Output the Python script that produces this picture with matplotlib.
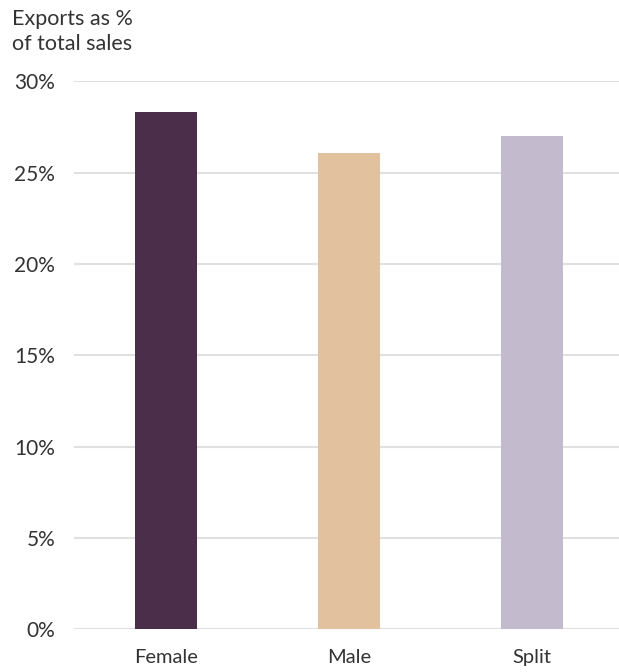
import matplotlib
matplotlib.use("Agg")
import matplotlib.pyplot as plt
from matplotlib.ticker import FuncFormatter

categories = ["Female", "Male", "Split"]
values = [28.3, 26.05, 27.0]
colors = ["#4B2E4A", "#E2C29E", "#C3BACE"]
yticks = [0, 5, 10, 15, 20, 25, 30]

plt.rcParams['font.family'] = ['Lato', 'DejaVu Sans']
text_color = "#333333"

fig = plt.figure(figsize=(6.19, 6.72), dpi=100)
ax = fig.add_axes([74/619, (672-629.3)/672, 1-74/619, (629.3-81.3)/672])

x = list(range(len(categories)))
ax.bar(x, values, width=0.34, color=colors, zorder=3)

ax.set_ylim(0, 30)
ax.set_xlim(-0.503, 2.475)
ax.set_yticks(yticks)
ax.yaxis.set_major_formatter(FuncFormatter(lambda v, p: f"{int(v)}%"))
ax.grid(axis='y', color="#E0E0E0", linewidth=1.5, zorder=0)
ax.set_xticks(x)
ax.set_xticklabels(categories)
for s in ax.spines.values():
    s.set_visible(False)
ax.tick_params(axis='y', length=0, pad=13.5, labelsize=15, labelcolor=text_color)
ax.tick_params(axis='x', length=0, pad=14, labelsize=14.5, labelcolor=text_color)

fig.text(12/619, 1-9/672, "Exports as %\nof total sales", ha='left', va='top',
         fontsize=15.5, color=text_color, linespacing=1.3)

fig.savefig("out.png", dpi=100)
